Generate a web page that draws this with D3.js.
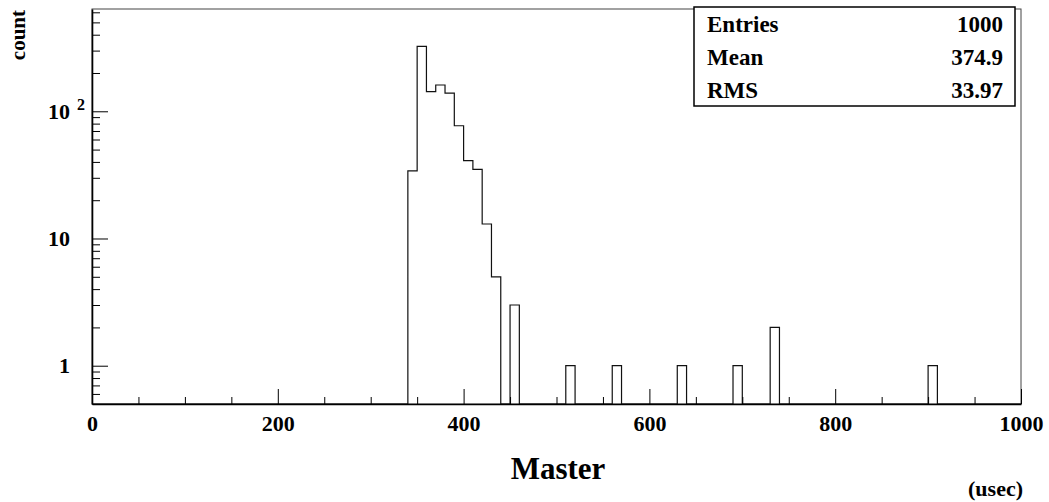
<!DOCTYPE html>
<html>
<head>
<meta charset="utf-8">
<script src="https://cdn.jsdelivr.net/npm/d3@7"></script>
<style>
  body { margin: 0; background: #fff; }
  svg { display: block; font-family: "Liberation Serif", "Times New Roman", serif; font-weight: bold; }
</style>
</head>
<body>
<div id="chart"></div>
<script>
// histogram data: lower edge of each non-empty bin (bin width 10) and its count
const binStarts = [340, 350, 360, 370, 380, 390, 400, 410, 420, 430, 450, 510, 560, 630, 690, 730, 900];
const binCounts = [34, 324, 143, 161, 139, 77, 41, 35, 13, 5, 3, 1, 1, 1, 1, 2, 1];
const binWidth = 10;
const xRange = [0, 1000];

const xMajor = [0, 200, 400, 600, 800, 1000];
const xMinor = [50, 100, 150, 250, 300, 350, 450, 500, 550, 650, 700, 750, 850, 900, 950];
const yMajor = [1, 10, 100];
const yMinor = [0.6, 0.7, 0.8, 0.9, 2, 3, 4, 5, 6, 7, 8, 9, 20, 30, 40, 50, 60, 70, 80, 90, 200, 300, 400, 500, 600];

const statNames = ["Entries", "Mean", "RMS"];
const statValues = ["1000", "374.9", "33.97"];

const width = 1049, height = 502;
const margin = {top: 9, right: 28, bottom: 98, left: 92};

const svg = d3.select("#chart").append("svg")
    .attr("width", width)
    .attr("height", height);

let x = d3.scaleLinear()
    .domain(xRange)
    .range([margin.left, width - margin.right]);

let y = d3.scaleLog()
    .domain([0.5, 637])
    .range([height - margin.bottom, margin.top]);

const yBottom = height - margin.bottom;

// frame
svg.append("rect")
    .attr("x", margin.left)
    .attr("y", margin.top)
    .attr("width", x(xRange[1]) - margin.left)
    .attr("height", yBottom - margin.top)
    .attr("fill", "none")
    .attr("stroke", "#444")
    .attr("stroke-width", 1);

// histogram outline, step style
const countAt = new Map(binStarts.map((s, i) => [s, binCounts[i]]));
const allBins = d3.range(xRange[0], xRange[1], binWidth);
let pts = [[x(xRange[0]), yBottom]];
allBins.forEach(lo => {
  const c = countAt.get(lo) || 0;
  const yy = c > 0 ? y(c) : yBottom;
  pts.push([x(lo), yy]);
  pts.push([x(lo + binWidth), yy]);
});
pts.push([x(xRange[1]), yBottom]);

svg.append("path")
    .attr("d", d3.line()(pts))
    .attr("fill", "none")
    .attr("stroke", "#111")
    .attr("stroke-width", 1.2);

// x axis
const xAxisMinor = g => g
    .attr("transform", `translate(0,${yBottom})`)
    .call(d3.axisBottom(x).tickValues(xMinor).tickSize(-7).tickFormat(""))
    .call(g => g.select(".domain").remove());

const xAxis = g => g
    .attr("transform", `translate(0,${yBottom})`)
    .style("font-size", "22px")
    .style("font-family", "Liberation Serif")
    .style("font-weight", "bold")
    .call(d3.axisBottom(x).tickValues(xMajor).tickSize(-15).tickSizeOuter(0).tickPadding(11)
          .tickFormat(d3.format("d")));

svg.append("g").call(xAxisMinor);
svg.append("g").call(xAxis);

// y axis
const yAxisMinor = g => g
    .attr("transform", `translate(${margin.left},0)`)
    .call(d3.axisLeft(y).tickValues(yMinor).tickSize(-8).tickFormat(""))
    .call(g => g.select(".domain").remove());

const yAxis = g => g
    .attr("transform", `translate(${margin.left},0)`)
    .style("font-size", "22px")
    .style("font-family", "Liberation Serif")
    .style("font-weight", "bold")
    .call(d3.axisLeft(y).tickValues(yMajor).tickSize(-16).tickSizeOuter(0).tickPadding(22)
          .tickFormat(d => d === 100 ? "" : d));

svg.append("g").call(yAxisMinor);
const yg = svg.append("g").call(yAxis);

// 10^2 label
yg.selectAll(".tick").filter(d => d === 100).select("text")
    .attr("x", -7)
    .each(function() {
      const t = d3.select(this);
      t.append("tspan").text("10");
      t.append("tspan").attr("dx", 7).attr("dy", "-0.55em").style("font-size", "16px").text("2");
    });

svg.selectAll(".domain").attr("stroke", "#000").attr("stroke-width", 1.6);
svg.selectAll(".tick line").attr("stroke", "#000");

// stats box
const box = svg.append("g");
box.append("rect")
    .attr("x", 694)
    .attr("y", 7)
    .attr("width", 321)
    .attr("height", 99)
    .attr("fill", "#fff")
    .attr("stroke", "#000")
    .attr("stroke-width", 1.5);

statNames.forEach((name, i) => {
  box.append("text")
      .attr("x", 707)
      .attr("y", 32 + i * 33)
      .style("font-size", "23px")
      .text(name);
  box.append("text")
      .attr("x", 1003)
      .attr("y", 32 + i * 33)
      .attr("text-anchor", "end")
      .style("font-size", "23px")
      .text(statValues[i]);
});

// axis titles
svg.append("text")
    .attr("x", 558)
    .attr("y", 479)
    .attr("text-anchor", "middle")
    .style("font-size", "31px")
    .text("Master");

svg.append("text")
    .attr("x", 1023)
    .attr("y", 496)
    .attr("text-anchor", "end")
    .style("font-size", "22px")
    .text("(usec)");

svg.append("text")
    .attr("transform", "translate(25,10) rotate(-90)")
    .attr("text-anchor", "end")
    .style("font-size", "21px")
    .text("count");
</script>
</body>
</html>
